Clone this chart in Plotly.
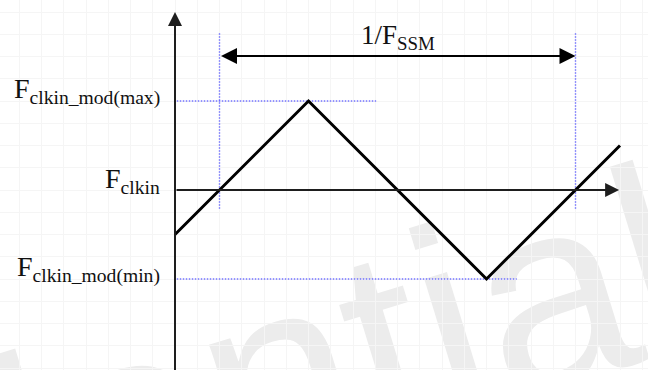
import plotly.graph_objects as go

# Triangular spread-spectrum modulation of the input clock.
# Time is in quarter-periods of the modulation, frequency in units of the
# modulation depth (0 = nominal F_clkin, +1 = max, -1 = min).
wave_t = [0.0, 1.5, 3.5, 5.0]
wave_f = [-0.5, 1.0, -1.0, 0.5]

level_max = 1.0
level_nom = 0.0
level_min = -1.0

period_start = 0.5
period_end = 4.5

# reach of the dotted guide lines
max_guide_t = [0.02, 2.26]
min_guide_t = [0.02, 3.84]
period_guide_f = [-0.21, 1.775]
period_arrow_f = 1.506

axis_top = 2.0
axis_bottom = -2.05
axis_right = 4.99

label_max = "F<sub>clkin_mod(max)</sub>"
label_nom = "F<sub>clkin</sub>"
label_min = "F<sub>clkin_mod(min)</sub>"
label_period = "1/F<sub>SSM</sub>"
watermark = "Confidential"

W, H = 648, 370
UNIT = 89.0            # pixels per unit on both axes
X0, Y0 = 175.0, 190.0  # pixel position of the origin

FONT = "Liberation Serif"
GUIDE = "rgba(80,80,255,0.8)"
AXIS = "#1e1e1e"
GUIDE_DASH = "1.5px,1.5px"

fig = go.Figure()

# dotted guides
fig.add_trace(go.Scatter(x=max_guide_t, y=[level_max, level_max], mode="lines",
                         line=dict(color=GUIDE, width=1.4, dash=GUIDE_DASH), hoverinfo="skip"))
fig.add_trace(go.Scatter(x=min_guide_t, y=[level_min, level_min], mode="lines",
                         line=dict(color=GUIDE, width=1.4, dash=GUIDE_DASH), hoverinfo="skip"))
for t in (period_start, period_end):
    fig.add_trace(go.Scatter(x=[t, t], y=period_guide_f, mode="lines",
                             line=dict(color=GUIDE, width=1.4, dash=GUIDE_DASH), hoverinfo="skip"))

# modulated frequency
fig.add_trace(go.Scatter(x=wave_t, y=wave_f, mode="lines",
                         line=dict(color="black", width=3), hoverinfo="skip"))

# faint watermark behind everything
fig.add_shape(type="rect", xref="paper", yref="paper",
              x0=-0.115, x1=0.085, y0=-0.278, y1=-0.078, layer="below",
              line=dict(width=0), fillcolor="rgba(0,0,0,0)",
              label=dict(text=watermark, textangle=-17, textposition="middle center",
                         font=dict(family="Liberation Sans", size=270, color="#ececec")))

annotations = [
    # vertical axis with arrow
    dict(x=0, y=axis_top, ax=0, ay=axis_bottom, xref="x", yref="y", axref="x", ayref="y",
         text="", showarrow=True, arrowhead=2, arrowsize=1.4, arrowwidth=2,
         arrowcolor=AXIS, standoff=0),
    # horizontal axis with arrow
    dict(x=axis_right, y=level_nom, ax=0, ay=level_nom, xref="x", yref="y", axref="x", ayref="y",
         text="", showarrow=True, arrowhead=2, arrowsize=1.4, arrowwidth=2,
         arrowcolor=AXIS, standoff=0),
    # period double arrow
    dict(x=period_end, y=period_arrow_f, ax=period_start, ay=period_arrow_f,
         xref="x", yref="y", axref="x", ayref="y", text="", showarrow=True,
         arrowside="end+start", arrowhead=2, startarrowhead=2,
         arrowsize=1.6, startarrowsize=1.6, arrowwidth=2, arrowcolor="black",
         standoff=0, startstandoff=0),
    dict(x=(period_start + period_end) / 2, y=period_arrow_f, xref="x", yref="y",
         text=label_period, showarrow=False, yanchor="middle", yshift=19,
         font=dict(family=FONT, size=27, color="#111")),
]
for lbl, lvl in ((label_max, level_max), (label_nom, level_nom), (label_min, level_min)):
    annotations.append(dict(x=0, y=lvl, xref="x", yref="y", text=lbl, showarrow=False,
                            xanchor="right", yanchor="middle", xshift=-13, yshift=10,
                            font=dict(family=FONT, size=28, color="#111")))

fig.update_layout(
    width=W, height=H,
    margin=dict(l=0, r=0, t=0, b=0),
    paper_bgcolor="white", plot_bgcolor="white",
    showlegend=False,
    annotations=annotations,
    xaxis=dict(range=[-X0 / UNIT, (W - X0) / UNIT], showgrid=True, gridcolor="#f5f5f5",
               gridwidth=1, tick0=0, dtick=0.25, zeroline=False, showticklabels=False,
               ticks="", showline=False, fixedrange=True),
    yaxis=dict(range=[-(H - Y0) / UNIT, Y0 / UNIT], showgrid=True, gridcolor="#f5f5f5",
               gridwidth=1, tick0=0, dtick=0.25, zeroline=False, showticklabels=False,
               ticks="", showline=False, fixedrange=True),
)

fig.write_html("out.html")
